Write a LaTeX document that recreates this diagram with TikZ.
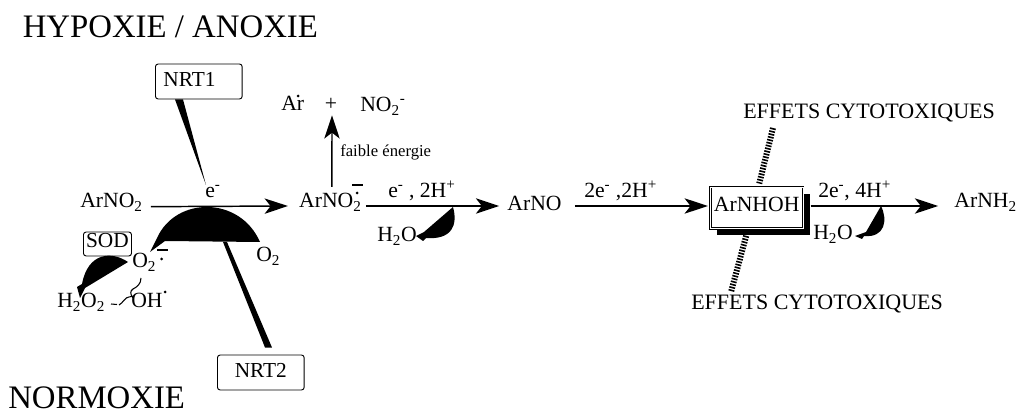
\documentclass[tikz,border=0pt]{standalone}
\usepackage{fontspec}
\setmainfont{Liberation Serif}
\usetikzlibrary{positioning,arrows.meta,shadows}
\begin{document}
\begin{tikzpicture}[
  x=0.75pt,y=-0.75pt,
  chem/.style={inner sep=0pt,anchor=base west,font=\fontsize{16.25}{18}\selectfont},
  effet/.style={inner sep=0pt,anchor=base west,font=\fontsize{16.5}{18}\selectfont},
  small/.style={inner sep=0pt,anchor=base west,font=\fontsize{12.5}{14}\selectfont},
  title/.style={inner sep=0pt,anchor=base west,font=\fontsize{24.6}{26}\selectfont},
  enz/.style={draw,rounded corners=2pt,line width=0.7pt,inner ysep=0pt,text height=17.25pt,text depth=9pt,font=\fontsize{16}{18}\selectfont},
  rxn/.style={line width=1.1pt,-{Stealth[length=17.5pt,width=11.5pt,inset=4.5pt]}},
  hatch/.style={line width=4.5pt,dash pattern=on 1.2pt off 1pt},
  squig/.style={line width=0.8pt}
]
\path[use as bounding box] (0,0) rectangle (1020,416);
\node[title] (hypo) at (22.5,38) {HYPOXIE / ANOXIE};
\node[title] (normo) at (8,408.5) {NORMOXIE};
\node[chem] (arno2) at (80,208) {ArNO\textsubscript{2}};
\node[chem,base right=117pt of arno2] (arnorad) {ArNO\textsubscript{2}};
\node[chem,base right=109pt of arnorad,yshift=-2.25pt] (arno) {ArNO};
\node[draw,fill=white,double,double distance=0.7pt,line width=0.7pt,inner xsep=1pt,inner ysep=0pt,minimum width=69.5pt,text height=18.75pt,text depth=12.25pt,
  drop shadow={shadow xshift=5.25pt,shadow yshift=-5.25pt,fill=black,opacity=1},font=\fontsize{16.25}{18}\selectfont,
  base right=111pt of arno,yshift=-0.75pt] (arnhoh) {ArNHOH};
\node[chem,base right=113pt of arnhoh,yshift=3pt] (arnh2) {ArNH\textsubscript{2}};
\node[chem] (ar) at (281,111) {Ar};
\node[chem,anchor=base] (plus) at (331,111) {+};
\node[chem] (no2) at (360,112) {NO\textsubscript{2}\textsuperscript{-}};
\node[small] (faible) at (340,157) {faible énergie};
\node[chem] (elec) at (205,198) {e\textsuperscript{-}};
\node[chem] (lab1) at (388,198) {e\textsuperscript{-} , 2H\textsuperscript{+}};
\node[chem] (lab2) at (584,198) {2e\textsuperscript{-} ,2H\textsuperscript{+}};
\node[chem] (lab3) at (818,198) {2e\textsuperscript{-}, 4H\textsuperscript{+}};
\node[chem] (wat1) at (377,242) {H\textsubscript{2}O};
\node[chem] (wat2) at (813,240) {H\textsubscript{2}O};
\node[chem] (o2) at (256,262) {O\textsubscript{2}};
\node[chem] (o2rad) at (132,268) {O\textsubscript{2}};
\node[chem] (h2o2) at (57,308) {H\textsubscript{2}O\textsubscript{2}};
\node[chem] (oh) at (131,308) {OH};
\node[effet] (effup) at (743,119) {EFFETS CYTOTOXIQUES};
\node[effet] (effdown) at (691,310) {EFFETS CYTOTOXIQUES};
\node[enz,anchor=base west,inner xsep=6pt,text width=53pt,align=left] (nrt1) at (155,87) {NRT1};
\node[enz,anchor=base west,minimum width=65pt] (nrt2) at (217,378) {NRT2};
\node[draw,rounded corners=2pt,line width=0.7pt,anchor=base west,inner xsep=2pt,inner ysep=0pt,text height=12pt,text depth=6pt,font=\fontsize{16}{18}\selectfont] (sod) at (83,248) {SOD};

\draw[rxn] ([xshift=6pt,yshift=1pt]arno2.base east) -- ([xshift=-8.25pt,yshift=1.5pt]arnorad.base west);
\draw[rxn] ([xshift=3pt,yshift=1.5pt]arnorad.base east) -- ([xshift=-6pt,yshift=3.75pt]arno.base west);
\draw[rxn] ([xshift=9.75pt,yshift=3.75pt]arno.base east) -- ([xshift=-1.5pt,yshift=4.5pt]arnhoh.base west);
\draw[rxn] ([xshift=5.25pt,yshift=4.5pt]arnhoh.base east) -- ([xshift=-12pt,yshift=1.5pt]arnh2.base west);
\draw[rxn] ([xshift=24.75pt,yshift=15.75pt]arnorad.base west) -- ([xshift=0.75pt,yshift=-3pt]plus.south);

\fill ([xshift=15pt]nrt1.south west) -- ([xshift=21pt]nrt1.south west) -- ([xshift=0.75pt,yshift=9.75pt]elec.base west) -- cycle;
\fill ([xshift=36pt,yshift=5.25pt]nrt2.north west) -- ([xshift=41.25pt,yshift=5.25pt]nrt2.north west) -- ([xshift=-21.75pt,yshift=15pt]o2.base west) -- ([xshift=-24.75pt,yshift=15pt]o2.base west) -- cycle;

\fill (260,242) .. controls (240,196) and (176,196) .. (157,238) -- (150,252) -- (165,241) -- cycle;
\fill (128,262) .. controls (112,251) and (88,252) .. (82,284) -- (77,287) -- (80,298) -- (85,288) -- cycle;
\fill (453,207) .. controls (458,225) and (452,240) .. (426,238) -- (423,241) -- (416,236) -- (424,232) -- cycle;
\fill (881,206) .. controls (888,220) and (885,238) .. (864,236) -- (862,239) -- (855,236) -- (866,232) -- cycle;

\draw[hatch] ([xshift=22.5pt,yshift=-6.75pt]effup.base west) -- ([xshift=1.9pt,yshift=2.25pt]arnhoh.north);
\draw[hatch] ([xshift=-7.9pt,yshift=-5.25pt]arnhoh.south) -- ([xshift=30pt,yshift=13.5pt]effdown.base west);

\draw[squig] (141,278) .. controls (141,284) and (137,287) .. (133,289) .. controls (130,291) and (130,294) .. (133,298);
\draw[squig] (111,304) -- (117,304.5);
\draw[squig] (119,305) .. controls (123,303) and (125,297) .. (129,297) .. controls (131,297) and (132,297) .. (134,296);

\fill (298,96) circle (1.5);
\fill (357,193) circle (1.5);
\fill (161.5,259) circle (1.5);
\fill (165,292) circle (1.5);
\draw[line width=1pt] (352,185) -- (363,185);
\draw[line width=1pt] (157,250) -- (168,250);
\end{tikzpicture}
\end{document}
